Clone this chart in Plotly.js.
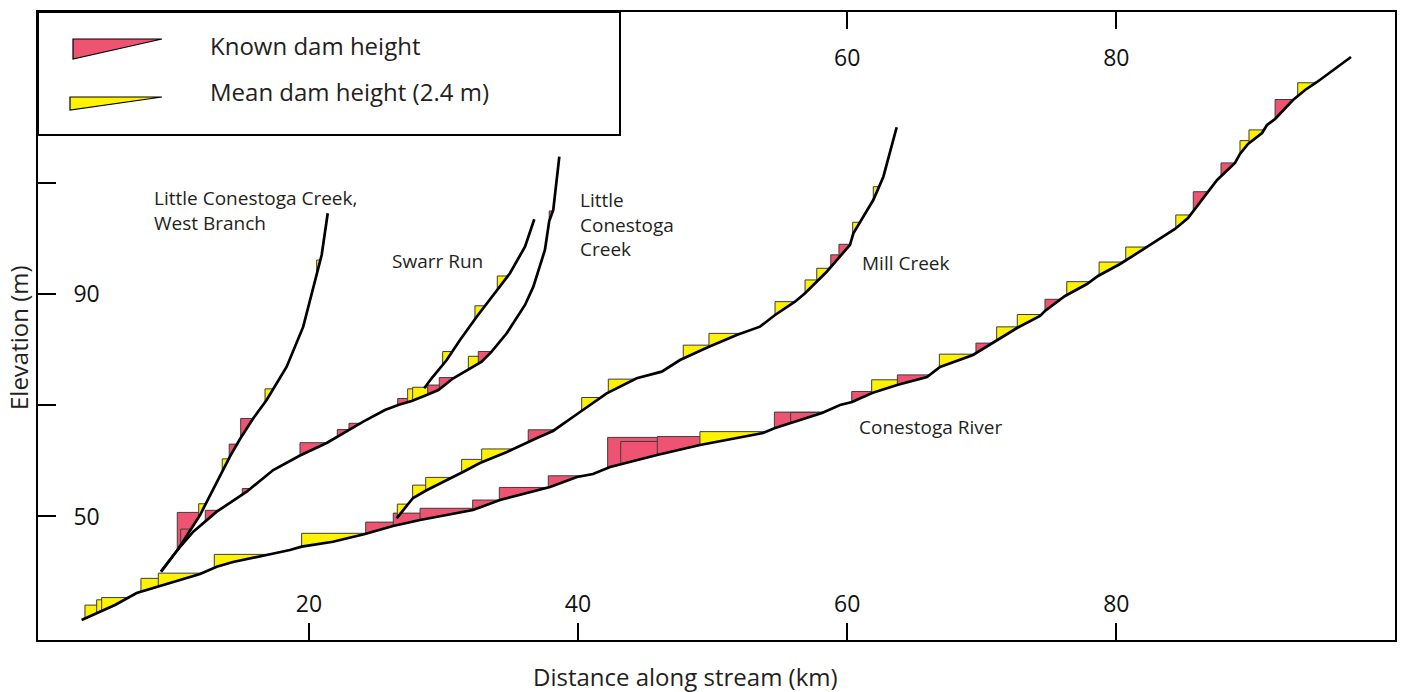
<!DOCTYPE html>
<html><head><meta charset="utf-8">
<script src="https://cdn.plot.ly/plotly-3.0.1.min.js"></script>
<style>html,body{margin:0;padding:0;background:#fff}#chart{width:1401px;height:692px}</style>
</head><body><div id="chart"></div>
<script>
// ---- Stream long profiles: distance along stream (km) and elevation (m) ----
const conestogaKm = [3.11, 4.47, 5.59, 7.20, 8.69, 10.42, 11.91, 13.15, 14.36, 16.86, 18.59, 19.46, 21.79, 24.17, 26.25, 28.26, 32.19, 34.20, 37.40, 37.92, 39.92, 41.11, 42.38, 45.87, 49.06, 53.75, 54.64, 58.13, 59.47, 60.36, 61.85, 63.71, 65.93, 66.90, 69.35, 71.14, 72.62, 74.33, 74.70, 76.19, 77.82, 78.64, 80.28, 82.28, 84.36, 85.33, 86.82, 87.49, 88.82, 89.19, 89.79, 90.83, 91.20, 91.80, 93.13, 94.03, 94.92, 97.44];
const conestogaElev = [31.39, 32.88, 34.08, 36.24, 37.32, 38.58, 39.66, 40.97, 41.81, 43.07, 43.97, 44.57, 45.46, 46.85, 48.29, 49.37, 51.16, 52.96, 54.94, 55.30, 57.10, 57.64, 58.89, 61.05, 62.85, 65.01, 65.91, 68.60, 70.04, 70.58, 72.20, 73.64, 75.07, 76.87, 79.03, 81.73, 83.88, 86.04, 86.94, 89.64, 91.79, 93.23, 95.39, 98.45, 101.68, 103.66, 108.33, 110.49, 113.55, 115.17, 116.96, 118.94, 120.38, 121.46, 124.87, 126.67, 128.11, 132.60];

const littleConestogaKm = [9.01, 10.29, 11.41, 13.15, 15.38, 17.35, 19.34, 21.32, 24.04, 25.65, 26.64, 27.64, 28.75, 29.62, 30.73, 31.60, 32.84, 33.58, 34.70, 36.06, 36.68, 37.54, 37.86, 38.16, 38.61];
const littleConestogaElev = [40.07, 44.15, 47.26, 50.86, 54.45, 58.35, 60.96, 63.21, 67.04, 69.14, 70.04, 70.76, 71.84, 72.74, 74.84, 76.03, 77.82, 79.62, 82.93, 88.02, 91.31, 97.91, 103.12, 105.10, 114.68];

const westBranchKm = [9.01, 10.29, 11.91, 13.52, 14.13, 14.88, 15.87, 16.86, 17.61, 18.35, 19.58, 20.40, 20.95, 21.40];
const westBranchElev = [40.07, 44.15, 50.26, 57.76, 60.75, 63.93, 67.65, 70.94, 73.94, 76.93, 84.12, 92.10, 97.01, 104.50];

const swarrKm = [28.57, 29.12, 30.24, 31.23, 32.47, 33.96, 34.94, 36.06, 36.75];
const swarrElev = [73.04, 74.84, 78.13, 81.73, 85.91, 90.71, 93.72, 98.50, 103.43];

const millKm = [26.52, 27.74, 28.78, 30.48, 31.45, 32.71, 34.72, 36.95, 38.14, 40.15, 42.13, 44.36, 46.22, 47.58, 49.56, 51.79, 53.52, 54.64, 56.12, 56.87, 58.48, 60.21, 60.46, 61.94, 62.69, 63.68];
const millElev = [49.67, 53.32, 54.76, 56.74, 57.99, 59.61, 61.59, 64.11, 65.37, 68.78, 72.14, 74.84, 76.03, 78.13, 80.34, 82.62, 84.12, 86.22, 88.61, 90.12, 94.00, 98.81, 100.91, 106.89, 111.08, 119.97];

// ---- Dams: position (km), height (m), type (K = known height, M = mean height 2.4 m) ----
const conestogaDamKm = [3.36, 4.23, 4.60, 7.52, 8.81, 12.97, 19.46, 24.22, 26.27, 28.26, 32.17, 34.15, 37.79, 42.20, 43.17, 45.89, 49.06, 54.59, 55.80, 60.34, 61.82, 63.73, 66.85, 69.57, 71.11, 72.64, 74.70, 76.32, 78.72, 80.70, 84.42, 85.72, 87.78, 89.19, 89.86, 91.80, 93.48];
const conestogaDamHeight = [2.4, 2.4, 2.4, 2.4, 2.4, 2.4, 2.4, 2.1, 2.3, 2.1, 1.8, 2.3, 2.1, 5.5, 4.1, 3.3, 2.4, 2.9, 1.9, 1.9, 2.4, 1.8, 2.4, 1.8, 2.4, 2.4, 2.1, 2.4, 2.4, 2.4, 2.4, 3.5, 2.4, 2.4, 2.4, 3.5, 2.4];
const conestogaDamType = ['M','M','M','M','M','M','M','K','K','K','K','K','K','K','K','K','M','K','K','K','M','K','M','K','M','M','K','M','M','M','M','K','K','M','M','K','M'];

const littleConestogaDamKm = [12.30, 15.05, 19.34, 22.11, 22.98, 26.60, 27.34, 27.71, 28.83, 29.69, 31.85, 32.59, 37.86];
const littleConestogaDamHeight = [2.0, 1.1, 2.3, 1.3, 1.2, 1.2, 2.4, 2.4, 1.7, 2.1, 2.4, 2.2, 1.8];
const littleConestogaDamType = ['K','K','K','K','K','K','M','M','K','K','M','K','K'];

const westBranchDamKm = [10.22, 10.47, 11.81, 13.56, 14.08, 14.93, 16.74, 20.58];
const westBranchDamHeight = [6.8, 2.9, 2.4, 2.4, 2.5, 3.5, 2.4, 2.4];
const westBranchDamType = ['K','K','M','M','K','K','M','M'];

const swarrDamKm = [29.94, 32.34, 34.00];
const swarrDamHeight = [2.4, 2.4, 2.4];
const swarrDamType = ['M','M','M'];

const millDamKm = [26.57, 27.71, 28.68, 31.35, 32.84, 36.30, 40.27, 42.25, 47.82, 49.73, 54.64, 56.87, 57.74, 58.78, 59.39, 60.41, 61.94];
const millDamHeight = [2.4, 2.4, 2.4, 2.4, 2.4, 2.2, 2.4, 2.4, 2.4, 2.4, 2.4, 2.4, 2.4, 2.2, 2.4, 2.4, 2.4];
const millDamType = ['M','M','M','M','M','K','M','M','M','M','M','M','M','K','K','M','M'];

const xTickVals = [20, 40, 60, 80];
const xTopTickVals = [60, 80];
const yTickVals = [50, 70, 90, 110, 130];
const yTickText = ['50', '', '90', '', ''];

// ---- styles ----
const RED = '#ee5472';
const YELLOW = '#fff200';
const INK = '#231f20';
const FONT = 'Open Sans, Noto Sans, sans-serif';
const XRANGE = [-0.13, 100.71];
const YRANGE = [27.79, 140.69];

// Reservoir wedge behind a dam: vertical face at the dam, flat pool top,
// back down along the stream profile.
function damPolygon(xs, ys, x0, h) {
  let i = 0;
  while (i < xs.length - 2 && xs[i + 1] <= x0) i++;
  const base = ys[i] + (x0 - xs[i]) / (xs[i + 1] - xs[i]) * (ys[i + 1] - ys[i]);
  const top = base + h;
  const mids = [];
  let x1 = xs[xs.length - 1];
  let sx = x0, sy = base;
  for (let k = i; k < xs.length - 1; k++) {
    const ex = xs[k + 1], ey = ys[k + 1];
    if (ey >= top) { x1 = sx + (top - sy) / (ey - sy) * (ex - sx); break; }
    mids.push([ex, ey]); sx = ex; sy = ey;
  }
  const px = [x0, x0, x1], py = [base, top, top];
  for (let m = mids.length - 1; m >= 0; m--) { px.push(mids[m][0]); py.push(mids[m][1]); }
  px.push(x0); py.push(base);
  return { x: px, y: py };
}

const traces = [];
function addDams(xs, ys, damKm, damH, damType) {
  damKm.forEach((x0, i) => {
    const p = damPolygon(xs, ys, x0, damH[i]);
    traces.push({
      type: 'scatter', mode: 'lines', x: p.x, y: p.y,
      fill: 'toself', fillcolor: damType[i] === 'K' ? RED : YELLOW,
      line: { color: '#3d3d3d', width: 1 },
      hoverinfo: 'skip', showlegend: false, xaxis: 'x', yaxis: 'y'
    });
  });
}
addDams(conestogaKm, conestogaElev, conestogaDamKm, conestogaDamHeight, conestogaDamType);
addDams(littleConestogaKm, littleConestogaElev, littleConestogaDamKm, littleConestogaDamHeight, littleConestogaDamType);
addDams(westBranchKm, westBranchElev, westBranchDamKm, westBranchDamHeight, westBranchDamType);
addDams(swarrKm, swarrElev, swarrDamKm, swarrDamHeight, swarrDamType);
addDams(millKm, millElev, millDamKm, millDamHeight, millDamType);

function addProfile(name, xs, ys) {
  traces.push({
    type: 'scatter', mode: 'lines', name: name, x: xs, y: ys,
    line: { color: '#000', width: 2.7 },
    hoverinfo: 'skip', showlegend: false, xaxis: 'x2', yaxis: 'y'
  });
}
addProfile('Conestoga River', conestogaKm, conestogaElev);
addProfile('Little Conestoga Creek', littleConestogaKm, littleConestogaElev);
addProfile('Little Conestoga Creek, West Branch', westBranchKm, westBranchElev);
addProfile('Swarr Run', swarrKm, swarrElev);
addProfile('Mill Creek', millKm, millElev);

// paper coordinates helpers for the drawn legend box (plot area 38..1395 x 12..640 px)
const PX = v => (v - 38) / 1357;
const PY = v => (640 - v) / 628;

const labelFont = { family: FONT, size: 19, color: INK };
const layout = {
  width: 1401, height: 692,
  margin: { l: 38, r: 6, t: 12, b: 52, pad: 0 },
  paper_bgcolor: '#fff', plot_bgcolor: '#fff',
  font: { family: FONT, color: INK },
  showlegend: false, hovermode: false,
  xaxis: {
    range: XRANGE, tickmode: 'array', tickvals: xTickVals,
    ticks: 'inside', ticklen: 17, tickwidth: 2, tickcolor: '#000',
    ticklabelposition: 'inside', ticklabelstandoff: 8,
    tickfont: { family: FONT, size: 23, color: '#111' },
    showline: true, linewidth: 2, linecolor: '#000', mirror: true,
    showgrid: false, zeroline: false, fixedrange: true
  },
  xaxis2: {
    overlaying: 'x', side: 'top', range: XRANGE, tickmode: 'array', tickvals: xTopTickVals,
    ticks: 'inside', ticklen: 17, tickwidth: 2, tickcolor: '#000',
    ticklabelposition: 'inside', ticklabelstandoff: 23,
    tickfont: { family: FONT, size: 23, color: '#111' },
    showline: false, showgrid: false, zeroline: false, fixedrange: true
  },
  yaxis: {
    range: YRANGE, tickmode: 'array', tickvals: yTickVals, ticktext: yTickText,
    ticks: 'inside', ticklen: 18, tickwidth: 2, tickcolor: '#000',
    ticklabelposition: 'inside', ticklabelstandoff: 19,
    tickfont: { family: FONT, size: 23, color: '#111' },
    showline: true, linewidth: 2, linecolor: '#000', mirror: true,
    showgrid: false, zeroline: false, fixedrange: true
  },
  shapes: [
    { type: 'rect', xref: 'paper', yref: 'paper', x0: 0, x1: PX(620), y0: PY(135), y1: 1,
      line: { color: '#000', width: 2 }, fillcolor: '#fff', layer: 'below' },
    { type: 'path', xref: 'paper', yref: 'paper',
      path: `M ${PX(73)} ${PY(39)} L ${PX(73)} ${PY(59)} L ${PX(162)} ${PY(39)} Z`,
      fillcolor: RED, line: { color: '#000', width: 1.2 } },
    { type: 'path', xref: 'paper', yref: 'paper',
      path: `M ${PX(70)} ${PY(97)} L ${PX(70)} ${PY(110)} L ${PX(162)} ${PY(97)} Z`,
      fillcolor: YELLOW, line: { color: '#000', width: 1.2 } }
  ],
  annotations: [
    { xref: 'paper', yref: 'paper', x: PX(208), y: PY(46), xanchor: 'left', yanchor: 'middle',
      text: 'Known dam height', showarrow: false, font: { family: FONT, size: 24, color: INK } },
    { xref: 'paper', yref: 'paper', x: PX(208), y: PY(91), xanchor: 'left', yanchor: 'middle',
      text: 'Mean dam height (2.4 m)', showarrow: false, font: { family: FONT, size: 24, color: INK } },
    { xref: 'paper', yref: 'paper', x: PX(685), y: PY(676), xanchor: 'center', yanchor: 'middle',
      text: 'Distance along stream (km)', showarrow: false, font: { family: FONT, size: 24, color: INK } },
    { xref: 'paper', yref: 'paper', x: PX(18), y: PY(338), xanchor: 'center', yanchor: 'middle', textangle: -90,
      text: 'Elevation (m)', showarrow: false, font: { family: FONT, size: 24, color: INK } },
    { x: 8.34, y: 105.0, xanchor: 'left', yanchor: 'middle', align: 'left',
      text: 'Little Conestoga Creek,<br>West Branch', showarrow: false, font: labelFont },
    { x: 26.03, y: 95.9, xanchor: 'left', yanchor: 'middle', align: 'left',
      text: 'Swarr Run', showarrow: false, font: labelFont },
    { x: 40.0, y: 102.4, xanchor: 'left', yanchor: 'middle', align: 'left',
      text: 'Little<br>Conestoga<br>Creek', showarrow: false, font: labelFont },
    { x: 60.95, y: 95.6, xanchor: 'left', yanchor: 'middle', align: 'left',
      text: 'Mill Creek', showarrow: false, font: labelFont },
    { x: 60.73, y: 66.1, xanchor: 'left', yanchor: 'middle', align: 'left',
      text: 'Conestoga River', showarrow: false, font: labelFont }
  ]
};

Plotly.newPlot('chart', traces, layout, { staticPlot: true, displayModeBar: false });
</script>
</body></html>
